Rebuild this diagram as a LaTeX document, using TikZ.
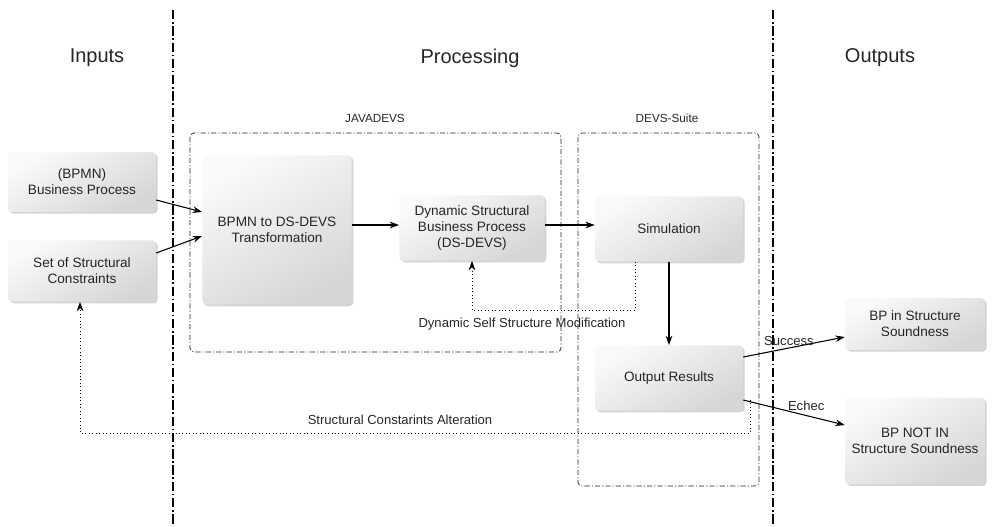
\documentclass[tikz,border=0pt]{standalone}
\usepackage{fontspec}
\setmainfont{Liberation Sans}
\usetikzlibrary{shadows,arrows.meta}
\begin{document}
\begin{tikzpicture}[x=0.75pt,y=-0.75pt,
  procbox/.style={draw=none,rounded corners=3pt,
    shading=axis,top color=gray!4,bottom color=gray!32,shading angle=30,
    drop shadow={shadow xshift=1.2pt,shadow yshift=-1.2pt,opacity=0.35,fill=gray},
    align=center,font=\fontsize{10.2}{12}\selectfont,text=black!85,inner sep=0pt},
  lane/.style={line width=1.4pt,dash pattern=on 7pt off 2pt on 1.2pt off 2pt},
  group/.style={line width=0.55pt,rounded corners=3pt,dash pattern=on 4pt off 1.5pt on 0.8pt off 1.5pt,black!85},
  flow/.style={-{Stealth[length=7pt,width=5pt]},line width=0.8pt},
  back/.style={-{Stealth[length=7pt,width=5pt]},line width=0.6pt,dotted},
  heading/.style={font=\fontsize{15}{17}\selectfont,text=black!85},
  tag/.style={font=\fontsize{8.8}{10}\selectfont,text=black!85},
  note/.style={font=\fontsize{9.8}{11}\selectfont,text=black!85}]
\useasboundingbox (0,0) rectangle (992,526);

% swim-lane separators
\coordinate (l1t) at (173,10); \coordinate (l1b) at (173,526);
\coordinate (l2t) at (773,10); \coordinate (l2b) at (773,526);
\draw[lane] (l1t) -- (l1b);
\draw[lane] (l2t) -- (l2b);

\node[heading] (hin) at (97,58) {Inputs};
\node[heading] (hproc) at (470,58) {Processing};
\node[heading] (hout) at (880,58) {Outputs};

% tool groups
\draw[group] (190,133) rectangle (561,352);
\node[tag] (jd) at (375,118) {JAVADEVS};
\draw[group] (578,133) rectangle (759,486);
\node[tag] (ds) at (667,118) {DEVS-Suite};

% process steps
\node[procbox,minimum width=111pt,minimum height=45pt] (bp) at (82,182) {(BPMN)\\Business Process};
\node[procbox,minimum width=111pt,minimum height=46pt] (sc) at (82,271) {Set of Structural\\Constraints};
\node[procbox,minimum width=112pt,minimum height=112pt] (tr) at (277,230) {BPMN to DS-DEVS\\Transformation};
\node[procbox,minimum width=109pt,minimum height=49pt] (dsd) at (472,228) {Dynamic Structural\\Business Process\\(DS-DEVS)};
\node[procbox,minimum width=111pt,minimum height=49pt] (sim) at (669,229) {Simulation};
\node[procbox,minimum width=111pt,minimum height=49pt] (res) at (669,378) {Output Results};
\node[procbox,minimum width=105pt,minimum height=39pt] (ok) at (915,324) {BP in Structure\\Soundness};
\node[procbox,minimum width=105pt,minimum height=65pt] (nok) at (915,441) {BP NOT IN\\Structure Soundness};

% main flow
\draw[flow] (bp.east |- 0,200) -- (tr.west |- 0,212);
\draw[flow] (sc.east |- 0,253) -- (tr.west |- 0,236);
\draw[flow] (tr.east |- 0,225) -- (dsd.west |- 0,225);
\draw[flow] (dsd.east |- 0,225) -- (sim.west |- 0,225);
\draw[flow] (sim.south) -- (res.north);
\draw[flow] (res.east |- 0,357) -- node[pos=0.45,above,note,inner sep=1.5pt] (succ) {Success} (ok.west |- 0,337);
\draw[flow] (res.east |- 0,400) -- node[pos=0.62,above,note,inner sep=3pt] (ech) {Echec} (nok.west |- 0,425);

% feedback loops
\coordinate (m1) at (635,310);
\coordinate (m2) at (472,310);
\draw[back] (sim.south -| m1) -- (m1) -- (m2) -- (dsd.south);
\node[note] (dsm) at (522,324) {Dynamic Self Structure Modification};

\coordinate (a0) at (750,400);
\coordinate (a1) at (750,433);
\coordinate (a2) at (80,433);
\draw[back] (a0) -- (a1) -- (a2) -- (sc.south -| a2);
\node[note] (sca) at (400,420) {Structural Constarints Alteration};
\end{tikzpicture}
\end{document}
